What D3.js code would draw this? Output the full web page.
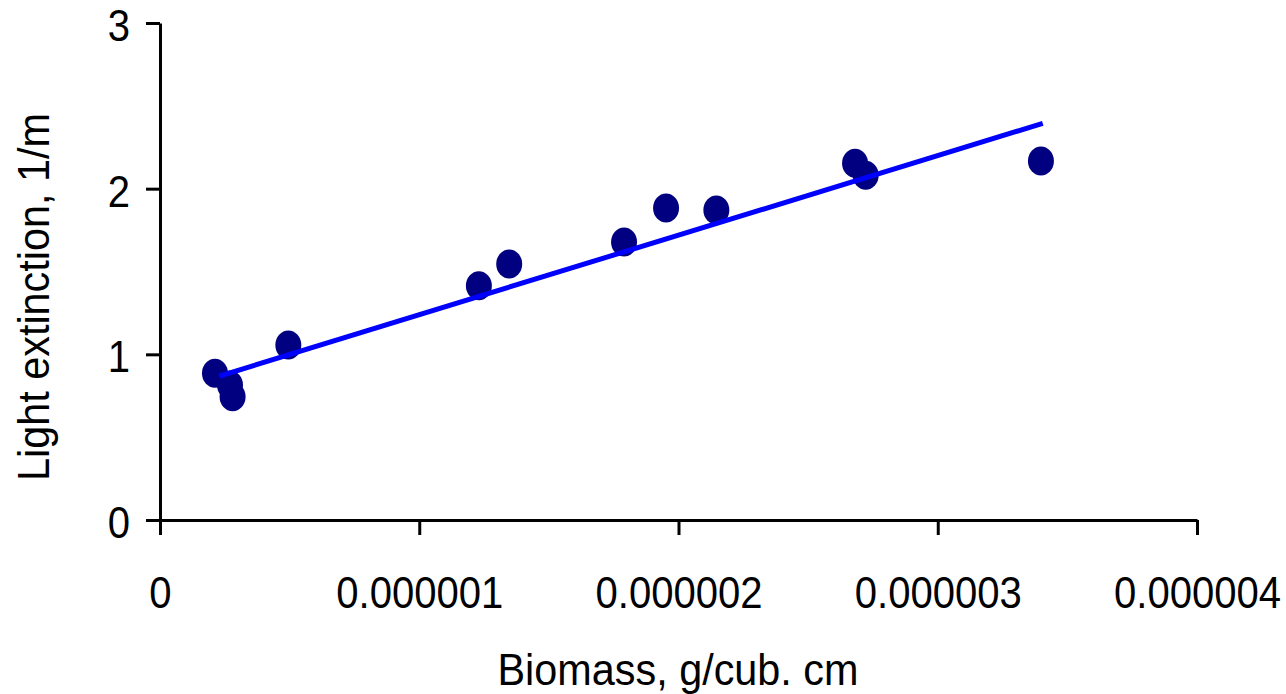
<!DOCTYPE html>
<html>
<head>
<meta charset="utf-8">
<script src="https://cdn.jsdelivr.net/npm/d3@7"></script>
<style>
  body { margin: 0; background: #fff; }
  svg text { font-family: "Liberation Sans", Arial, sans-serif; fill: #000; }
</style>
</head>
<body>
<svg id="chart" width="1286" height="694"></svg>
<script>
// biomass (g/cub. cm) vs light extinction (1/m)
var biomass = [0.212e-6, 0.270e-6, 0.280e-6, 0.495e-6, 1.230e-6, 1.347e-6,
               1.790e-6, 1.952e-6, 2.146e-6, 2.681e-6, 2.722e-6, 3.398e-6];
var extinction = [0.886, 0.815, 0.744, 1.056, 1.414, 1.545,
                  1.678, 1.883, 1.871, 2.153, 2.081, 2.167];

// linear trend line end points
var trendX = [0.229e-6, 3.405e-6];
var trendY = [0.869, 2.394];

var xTicks = [0, 1e-6, 2e-6, 3e-6, 4e-6];
var xTickLabels = ["0", "0.000001", "0.000002", "0.000003", "0.000004"];
var yTicks = [0, 1, 2, 3];

var svg = d3.select("#chart");
var squeeze = 0.89;      // tick labels in the original are a bit narrow
var titleSqueeze = 0.92;

var x = d3.scaleLinear().domain([0, 4e-6]).range([160, 1197]);
var y = d3.scaleLinear().domain([0, 3]).range([520, 23]);

// axes
var xAxis = svg.append("g")
    .attr("transform", "translate(0,520)")
    .call(d3.axisBottom(x).tickValues(xTicks)
        .tickFormat(function(d, i) { return xTickLabels[i]; })
        .tickSize(15).tickSizeOuter(0).tickPadding(41));
var yAxis = svg.append("g")
    .attr("transform", "translate(160,0)")
    .call(d3.axisLeft(y).tickValues(yTicks).tickFormat(d3.format("d"))
        .tickSize(14).tickSizeOuter(0).tickPadding(16));

[xAxis, yAxis].forEach(function(a) {
    a.select(".domain").attr("stroke", "#000").attr("stroke-width", 3);
    a.selectAll(".tick line").attr("stroke", "#000").attr("stroke-width", 3);
    a.selectAll(".tick text")
        .style("font-family", "'Liberation Sans', Arial, sans-serif")
        .style("font-size", "45px")
        .attr("fill", "#000")
        .attr("transform", "scale(" + squeeze + ",1)");
});
yAxis.selectAll(".tick text").attr("dy", "0.39em").attr("x", -30 / squeeze);

// points
svg.append("g").selectAll("ellipse")
    .data(biomass)
    .enter().append("ellipse")
    .attr("cx", function(d) { return x(d); })
    .attr("cy", function(d, i) { return y(extinction[i]); })
    .attr("rx", 13)
    .attr("ry", 14.5)
    .attr("fill", "#000080");

// trend line drawn over the points
svg.append("line")
    .attr("x1", x(trendX[0])).attr("y1", y(trendY[0]))
    .attr("x2", x(trendX[1])).attr("y2", y(trendY[1]))
    .attr("stroke", "#0000ff")
    .attr("stroke-width", 5);

// axis titles
svg.append("text")
    .attr("transform", "translate(678,685) scale(" + titleSqueeze + ",1)")
    .attr("text-anchor", "middle")
    .style("font-size", "45px")
    .text("Biomass, g/cub. cm");

svg.append("text")
    .attr("transform", "translate(49,297) rotate(-90) scale(" + titleSqueeze + ",1)")
    .attr("text-anchor", "middle")
    .style("font-size", "45px")
    .text("Light extinction, 1/m");
</script>
</body>
</html>
